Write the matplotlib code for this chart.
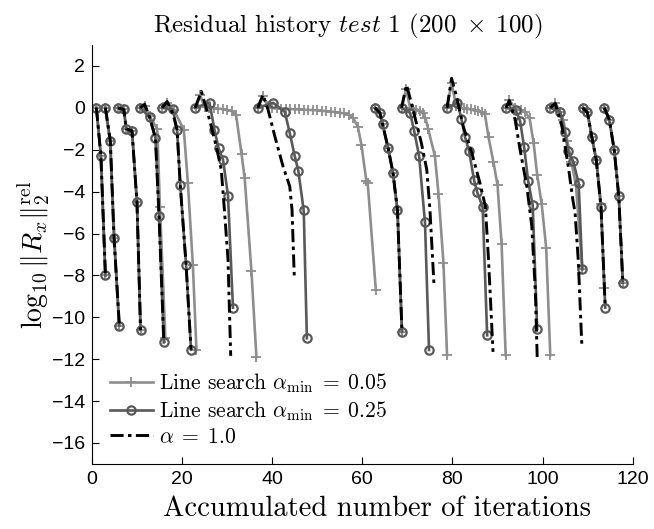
import numpy as np
import matplotlib
matplotlib.use("Agg")
import matplotlib.pyplot as plt

plt.rcParams['mathtext.fontset'] = 'cm'
plt.rcParams['font.family'] = 'serif'
plt.rcParams['font.serif'] = ['cmr10']
plt.rcParams['axes.formatter.use_mathtext'] = True

N = None
# Line search alpha_min = 0.05 (segments separated by None)
ls005_x = [1, 2, 3, N,
           3, 4, 5, 6, N,
           5.8, 7.1, 7.6, 8.9, 10.0, 10.8, N,
           10.7, 11.7, 12.8, 14.5, 15.1, 16.3, N,
           15.6, 16.7, 18.2, 20.4, 21.3, 22.4, 23.2, N,
           23.0, 24.0, 25.0, 26.0, 27.0, 28.0, 29.0, 30.0, 31.0, 32.0, 33.2, 33.9, 35.4, 36.5, N,
           36.8, 37.9, 39.0, 40, 41, 42, 43, 44, 45, 46, 47, 48, 49, 50, 51, 52, 53, 54, 55, 56, 57,
           58, 59, 59.8, 60.9, 61.2, 63.0, N,
           62.8, 63.9, 64.5, 65.7, 66.8, 67.8, 68.8, N,
           68.7, 69.7, 70.6, 71.3, 72.0, 72.7, 73.4, 74.0, 74.6, 76.1, 76.9, 78.0, 78.8, N,
           78.8, 79.8, 80.8, 81.7, 82.5, 83.3, 84.1, 84.9, 85.7, 86.5, 87.2, 88.0, 89.1, 90.0, 90.9, 91.8, N,
           91.9, 92.6, 93.9, 95.1, 96.1, 97.1, 98.0, 98.8, 99.8, 100.8, 101.7, N,
           101.7, 102.8, 103.9, 104.6, 105.5, 106.4, 107.4, 108.8, N,
           108.9, 109.95, 110.9, 111.9, 112.96, 113.7, N,
           113.7, 114.8, 115.9, 116.9, 117.8]
ls005_y = [0, -2.3, -8.0, N,
           0, -1.6, -6.2, -10.4, N,
           0, -0.08, -1.0, -1.1, -4.5, -10.6, N,
           0, 0.1, -0.4, -1.0, -4.75, -11.0, N,
           0, 0.25, -0.1, -1.05, -3.6, -7.5, -11.55, N,
           0, 0.6, 0.05, 0.0, -0.02, -0.04, -0.06, -0.1, -0.15, -0.35, -2.2, -3.35, -7.8, -11.9, N,
           0, 0.55, 0.1, -0.02, -0.03, -0.04, -0.05, -0.06, -0.07, -0.08, -0.09, -0.1, -0.11, -0.12,
           -0.14, -0.16, -0.18, -0.2, -0.23, -0.27, -0.33,
           -0.5, -0.9, -1.76, -3.5, -3.6, -8.7, N,
           0, -0.24, -0.79, -1.9, -3.1, -4.9, -10.7, N,
           0, 0.9, 0.0, -0.05, -0.1, -0.15, -0.25, -0.5, -1.0, -2.3, -4.1, -7.4, -11.8, N,
           0, 1.2, 0.1, 0.0, -0.02, -0.05, -0.08, -0.12, -0.17, -0.22, -0.3, -1.4, -2.6, -3.7, -6.5, -11.8, N,
           0, 0.35, 0.0, -0.1, -0.2, -0.49, -1.67, -3.2, -4.6, -6.7, -11.8, N,
           0, 0.25, -0.2, -0.6, -1.6, -2.6, -3.7, -7.7, N,
           0, -0.22, -1.37, -2.48, -4.6, -8.6, N,
           0, -0.57, -2.03, -4.22, -8.35]

# Line search alpha_min = 0.25
ls025_x = [1, 2, 3, N,
           3, 4.1, 4.9, 6.1, N,
           5.8, 7.1, 7.6, 8.9, 10.0, 10.8, N,
           10.7, 12.8, 14.1, 14.9, 15.96, N,
           15.6, 17.96, 18.9, 19.6, 20.9, 22.0, N,
           22.9, 26.1, 27.2, 28.1, 29.1, 30.2, 31.3, N,
           36.8, 40.2, 42.8, 43.9, 45.0, 45.8, 47.0, 47.7, N,
           62.8, 63.9, 64.5, 65.7, 66.8, 67.8, 68.8, N,
           68.7, 70.6, 71.5, 72.6, 73.9, 74.8, N,
           78.8, 81.1, 82.0, 82.8, 83.7, 84.8, 85.5, 86.7, 87.7, N,
           91.9, 94.0, 95.0, 95.9, 96.8, 97.8, 98.8, N,
           101.7, 103.9, 104.9, 105.7, 106.8, 108.0, 108.8, N,
           108.9, 109.95, 110.9, 111.9, 112.96, 113.9, N,
           113.7, 114.8, 115.9, 116.9, 117.8]
ls025_y = [0, -2.3, -8.0, N,
           0, -1.6, -6.2, -10.4, N,
           0, -0.08, -1.0, -1.1, -4.5, -10.6, N,
           0, -0.44, -1.44, -5.17, -11.2, N,
           0, -0.08, -1.05, -3.67, -7.5, -11.55, N,
           0, 0.25, -1.05, -1.92, -2.48, -4.19, -9.54, N,
           0, 0.24, -0.19, -1.2, -2.3, -3.0, -4.9, -11.0, N,
           0, -0.24, -0.79, -1.9, -3.1, -4.9, -10.7, N,
           0, -0.24, -1.1, -2.3, -5.46, -11.56, N,
           0, 0.25, -0.54, -1.4, -2.08, -3.46, -4.03, -4.75, -10.86, N,
           0, -0.1, -0.62, -1.87, -3.5, -4.64, -10.57, N,
           0, -0.19, -1.16, -2.08, -2.56, -3.6, -7.71, N,
           0, -0.22, -1.37, -2.48, -4.75, -9.54, N,
           0, -0.57, -2.03, -4.22, -8.35]

# Full step alpha = 1.0
full_x = [1, 2, 3, N,
          3, 4.1, 4.9, 6.1, N,
          5.8, 7.1, 7.6, 8.9, 10.0, 10.8, N,
          10.7, 11.7, 12.8, 14.1, 14.9, 15.96, N,
          15.6, 16.7, 18.0, 18.9, 19.6, 20.9, 22.0, N,
          22.9, 24.3, 26.1, 27.6, 28.7, 29.4, 30.2, 30.8, N,
          36.8, 37.96, 39.1, 40.6, 42.4, 43.9, 44.4, 44.9, N,
          62.8, 63.9, 64.5, 65.7, 66.8, 67.8, 68.8, N,
          68.7, 69.8, 70.9, 73.1, 74.3, 75.0, 75.6, 75.9, N,
          78.8, 79.8, 80.9, 82.4, 84.3, 86.1, 87.3, 88.0, 89.0, N,
          91.9, 92.6, 93.9, 95.0, 96.5, 97.6, 98.4, 98.8, N,
          101.7, 102.8, 104.3, 105.8, 106.7, 107.2, 107.9, 108.7, N,
          108.9, 109.95, 110.9, 111.9, 112.96, 113.9, N,
          113.7, 114.8, 115.9, 116.9, 117.8]
full_y = [0, -2.3, -8.0, N,
          0, -1.6, -6.2, -10.4, N,
          0, -0.08, -1.0, -1.1, -4.5, -10.6, N,
          0, 0.17, -0.44, -1.44, -5.17, -11.2, N,
          0, 0.3, -0.3, -1.05, -3.67, -7.5, -11.55, N,
          0, 0.78, -0.57, -1.84, -2.95, -4.86, -7.24, -11.84, N,
          0, 0.62, -0.1, -1.37, -2.79, -3.75, -4.86, -8.03, N,
          0, -0.24, -0.79, -1.9, -3.1, -4.9, -10.7, N,
          0, 1.09, 0.22, -1.68, -2.95, -4.86, -7.24, -8.43, N,
          0, 1.41, 0.54, -0.89, -2.16, -3.59, -4.7, -7.24, -11.65, N,
          0, 0.35, -0.57, -2.0, -3.75, -5.65, -8.8, -11.9, N,
          0, 0.22, -0.9, -2.95, -4.38, -5.0, -7.24, -11.3, N,
          0, -0.22, -1.37, -2.48, -4.75, -9.54, N,
          0, -0.57, -2.03, -4.22, -8.35]

labels = [r'Line search $\alpha_{\mathrm{min}}\;=\;0.05$',
          r'Line search $\alpha_{\mathrm{min}}\;=\;0.25$',
          r'$\alpha\;=\;1.0$']
xticks = [0, 20, 40, 60, 80, 100, 120]
yticks = list(range(-16, 3, 2))


def arr(v):
    return np.array([np.nan if a is None else a for a in v], dtype=float)


fig = plt.figure(figsize=(6.54, 5.29), dpi=100)
ax = fig.add_axes([0.1405, 0.123, 0.827, 0.792])

ax.plot(arr(ls005_x), arr(ls005_y), color='#8e8e8e', lw=1.9, marker='+',
        ms=7, mew=1.3, label=labels[0])
ax.plot(arr(ls025_x), arr(ls025_y), color='#595959', lw=1.9, marker='o',
        ms=6, mew=1.6, mfc='none', label=labels[1])
ax.plot(arr(full_x), arr(full_y), color='black', lw=2.1,
        linestyle=(0, (4.5, 1.5, 1.2, 1.5)), label=labels[2])

ax.set_xlim(0, 120)
ax.set_ylim(-17, 3)
ax.set_xticks(xticks)
ax.set_yticks(yticks)
ax.set_xticklabels([str(t) for t in xticks])
ax.set_yticklabels([('\u2212' + str(-t)) if t < 0 else str(t) for t in yticks])
ax.spines['top'].set_visible(False)
ax.spines['right'].set_visible(False)
ax.tick_params(direction='in', length=5, width=0.8, pad=5)
for lab in ax.get_xticklabels() + ax.get_yticklabels():
    lab.set_family(['Liberation Sans', 'DejaVu Sans'])
    lab.set_fontsize(14)

ax.set_xlabel('Accumulated number of iterations', fontsize=20.5, labelpad=3)
ax.xaxis.set_label_coords(0.528, -0.075)
ax.set_ylabel(r'$\log_{10}\|R_x\|_2^{\mathrm{rel}}$', fontsize=20, labelpad=0)
title = ax.set_title(r'Residual history $\mathit{test\ 1}$ $(200\;\times\;100)$',
                     fontsize=18, pad=9)
title.set_x(0.474)

ax.legend(loc='lower left', frameon=False, fontsize=15.5, handlelength=2.0,
          borderaxespad=0.3, labelspacing=0.2, handletextpad=0.3,
          bbox_to_anchor=(0.005, 0.005))

fig.savefig('out.png', dpi=100)
